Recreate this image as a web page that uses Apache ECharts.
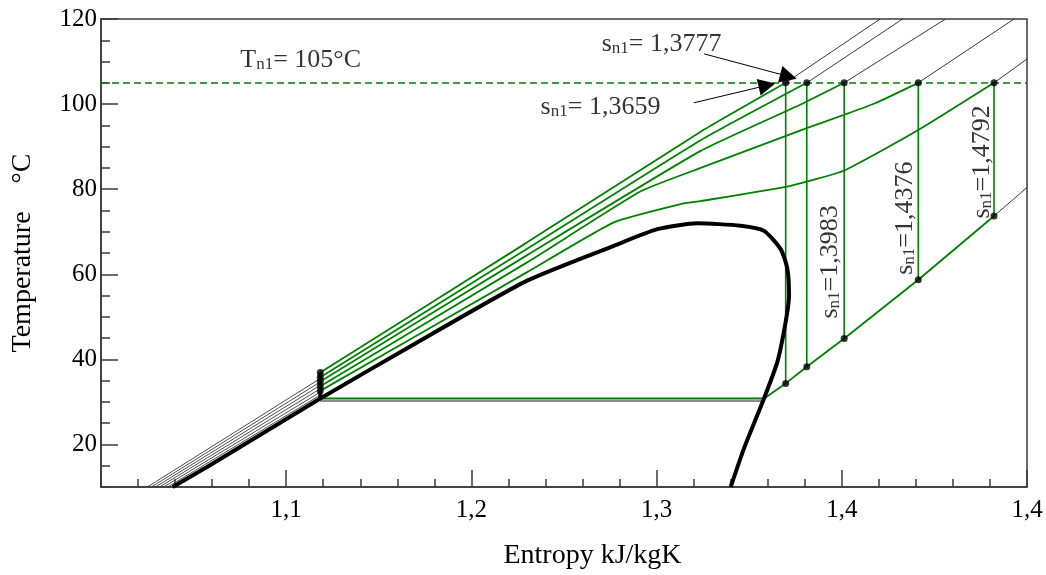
<!DOCTYPE html>
<html><head><meta charset="utf-8">
<script src="https://cdn.jsdelivr.net/npm/echarts@6/dist/echarts.min.js"></script>
<style>html,body{margin:0;padding:0;background:#fff}#c{width:1046px;height:575px}</style>
</head><body><div id="c"></div>
<script>
// ---- axis ticks ----
const xTickValues = [1.0, 1.1, 1.2, 1.3, 1.4, 1.5];
const xTickLabels = ['', '1,1', '1,2', '1,3', '1,4', '1,4'];
const yTickValues = [20, 40, 60, 80, 100, 120];

// ---- saturation dome (s kJ/kgK, T °C) ----
const domeS = [1.0387, 1.0577, 1.1184, 1.1688, 1.2301, 1.2769, 1.3004, 1.322, 1.3454, 1.358, 1.367, 1.3706, 1.3715, 1.3697, 1.3652, 1.358, 1.3473, 1.340];
const domeT = [10, 14.8, 30.8, 43.5, 58.5, 66.7, 70.6, 72.0, 71.4, 70.2, 65.9, 61.3, 55.0, 48.8, 39.4, 30.8, 19.2, 10];

// ---- compressed-liquid isobars (thin band) ----
const bandStartS = [1.0250, 1.0272, 1.0294, 1.0316, 1.0338, 1.0360];
const bandStartT = 10;
const bandEndT = [35.5, 34.7, 33.9, 33.1, 32.3, 31.6];

// ---- pump ----
const pumpS = 1.1184;
const condT = 30.8;
const condT2 = 30.2;
const satVapS = 1.358;

// ---- high-pressure isobars ----
const hp1S = [1.1184, 1.2301, 1.3238, 1.3697];
const hp1T = [36.9, 67.5, 93.5, 105];
const hp2S = [1.1184, 1.2301, 1.3238, 1.3811];
const hp2T = [35.8, 66.0, 91.5, 105];
const hp3S = [1.1184, 1.2301, 1.3238, 1.3778, 1.4013];
const hp3T = [34.8, 64.5, 89.0, 99.9, 105];
const hp4S = [1.1184, 1.2301, 1.2914, 1.3238, 1.3814, 1.4013, 1.418, 1.4413];
const hp4T = [33.7, 62.8, 79.5, 85.0, 94.4, 97.5, 100.2, 105];
const hp5S = [1.1184, 1.2301, 1.2769, 1.313, 1.3238, 1.3724, 1.4013, 1.4413, 1.4822];
const hp5T = [32.6, 60.5, 72.2, 76.5, 77.2, 80.8, 84.4, 93.9, 105];

// ---- isobar continuations above 105 °C ----
const contEndS = [1.4207, 1.4328, 1.456, 1.493, 1.5];
const contEndT = [120, 120, 120, 120, 110.6];

// ---- turbine inlet / outlet ----
const inletT = 105;
const inletS = [1.3697, 1.3811, 1.4013, 1.4413, 1.4822];
const outletT = [34.35, 38.25, 44.9, 58.7, 73.7];

// ---- low-pressure isobar ----
const lpS = [1.358, 1.3697, 1.3811, 1.4013, 1.4413, 1.4822, 1.5];
const lpT = [30.8, 34.35, 38.25, 44.9, 58.7, 73.7, 80.4];

// ---- annotations ----
const annoMain = ['T', 's', 's', 's', 's', 's'];
const annoSub = ['n1', 'n1', 'n1', 'n1', 'n1', 'n1'];
const annoRest = ['= 105°C', '= 1,3777', '= 1,3659', '=1,3983', '=1,4376', '=1,4792'];
const annoS = [1.1078, 1.3027, 1.2697, 1.393, 1.4337, 1.4751];
const annoT = [110.6, 114.4, 99.6, 62.9, 73.2, 86.4];
const annoRot = [0, 0, 0, 90, 90, 90];
const arrow1 = [[1.3257, 111.8], [1.3712, 106.5]];
const arrow2 = [[1.3201, 100.3], [1.3596, 104.4]];

const GREEN = '#008000';
const AX = '#3a3a3a';
const FONT = 'Liberation Serif';
const pts = (S, T) => S.map((s, i) => [s, T[i]]);
const ls = (data, color, width, z, extra) => Object.assign({
  type: 'line', data, showSymbol: false, symbol: 'none', smooth: false,
  lineStyle: { color, width }, z, silent: true, animation: false
}, extra || {});

const series = [];
bandStartS.forEach((s0, i) => series.push(ls([[s0, bandStartT], [pumpS, bandEndT[i]]], '#3a3a3a', 0.9, 2)));
[[hp1S, hp1T], [hp2S, hp2T], [hp3S, hp3T], [hp4S, hp4T], [hp5S, hp5T]].forEach(([S, T]) => series.push(ls(pts(S, T), GREEN, 1.8, 4, { smooth: 0.15 })));
inletS.forEach((s0, i) => series.push(ls([[s0, inletT], [contEndS[i], contEndT[i]]], '#222', 0.9, 3)));
series.push(ls(pts(lpS.slice(0, 6), lpT.slice(0, 6)), GREEN, 1.8, 4));
series.push(ls(pts(lpS.slice(5), lpT.slice(5)), '#222', 0.9, 3));
series.push(ls([[pumpS, condT2], [satVapS, condT2]], '#666', 1.6, 3));
series.push(ls([[pumpS, condT], [satVapS, condT]], GREEN, 1.8, 4));
inletS.forEach((s0, i) => series.push(ls([[s0, inletT], [s0, outletT[i]]], GREEN, 1.6, 4)));
series.push(ls([[pumpS, condT], [pumpS, hp1T[0]]], '#000', 4, 6));
series.push(ls(pts(domeS, domeT), '#000', 4, 5, {
  smooth: 0.2,
  markLine: {
    silent: true, symbol: ['none', 'none'], label: { show: false }, animation: false,
    lineStyle: { color: GREEN, type: [7, 4], width: 1.6 },
    data: [{ yAxis: inletT }]
  }
}));
const dots = []
  .concat(inletS.map(s => [s, inletT]))
  .concat(inletS.map((s, i) => [s, outletT[i]]))
  .concat([hp1T[0], hp2T[0], hp3T[0], hp4T[0], hp5T[0]].map(t => [pumpS, t]));
series.push({ type: 'scatter', data: dots, symbol: 'circle', symbolSize: 7, itemStyle: { color: '#000' }, z: 8, silent: true, animation: false });
series.push({ type: 'lines', coordinateSystem: 'cartesian2d', data: [{ coords: arrow1 }], symbol: ['none', 'triangle'], symbolSize: [13, 17], lineStyle: { color: '#000', width: 1, opacity: 1 }, itemStyle: { color: '#000' }, z: 9, silent: true, animation: false });
series.push({ type: 'lines', coordinateSystem: 'cartesian2d', data: [{ coords: arrow2 }], symbol: ['none', 'triangle'], symbolSize: [9, 17], lineStyle: { color: '#000', width: 1, opacity: 1 }, itemStyle: { color: '#000' }, z: 9, silent: true, animation: false });
series.push({
  type: 'scatter', symbolSize: 0.1, itemStyle: { color: 'rgba(0,0,0,0)' }, z: 10, silent: true, animation: false,
  data: annoS.map((s, i) => ({ value: [s, annoT[i]], label: { rotate: annoRot[i], formatter: '{m|' + annoMain[i] + '}{b|' + annoSub[i] + '}{m|' + annoRest[i] + '}' } })),
  label: {
    show: true, position: 'inside',
    rich: {
      m: { fontFamily: FONT, fontSize: 26, lineHeight: 28, color: '#000', verticalAlign: 'bottom' },
      b: { fontFamily: FONT, fontSize: 17, lineHeight: 17, color: '#000', verticalAlign: 'bottom' }
    }
  }
});

const chart = echarts.init(document.getElementById('c'), null, { renderer: 'canvas' });
chart.setOption({
  animation: false,
  backgroundColor: '#fff',
  grid: { left: 101, right: 19, top: 19, bottom: 86, show: true, borderColor: AX, borderWidth: 1.5, containLabel: false },
  xAxis: {
    type: 'value', min: xTickValues[0], max: xTickValues[xTickValues.length - 1], interval: 0.1,
    axisLine: { show: true, lineStyle: { color: AX, width: 1.5 } },
    axisTick: { show: true, inside: true, length: 17, lineStyle: { color: AX, width: 1.5 } },
    minorTick: { show: true, splitNumber: 5, length: 8, lineStyle: { color: AX, width: 1.5 } },
    splitLine: { show: false }, minorSplitLine: { show: false },
    axisLabel: {
      show: true, margin: 11, showMinLabel: true, showMaxLabel: true, color: '#000', fontFamily: FONT, fontSize: 25,
      formatter: v => { const i = xTickValues.findIndex(t => Math.abs(t - v) < 1e-6); return i >= 0 ? xTickLabels[i] : ''; }
    },
    name: 'Entropy kJ/kgK', nameLocation: 'middle', nameGap: 55,
    nameTextStyle: { color: '#000', fontFamily: FONT, fontSize: 28, padding: [0, 0, 0, 57] }
  },
  yAxis: [{
    type: 'value', position: 'left', min: 10, max: 120, interval: 10,
    axisLine: { show: true, lineStyle: { color: AX, width: 1.5 } },
    axisTick: { show: true, inside: true, length: 17, customValues: yTickValues, lineStyle: { color: AX, width: 1.5 } },
    splitLine: { show: false },
    axisLabel: { show: true, margin: 4, customValues: yTickValues, color: '#000', fontFamily: FONT, fontSize: 25 },
    name: 'Temperature    °C', nameLocation: 'middle', nameRotate: 90, nameGap: 64,
    nameTextStyle: { color: '#000', fontFamily: FONT, fontSize: 28 }
  }, {
    type: 'value', position: 'left', offset: 0, min: 10, max: 120, interval: 5,
    axisLine: { show: false },
    axisTick: { show: true, inside: true, length: 9, lineStyle: { color: AX, width: 1.5 } },
    axisLabel: { show: false }, splitLine: { show: false }
  }],
  series
});
</script></body></html>
